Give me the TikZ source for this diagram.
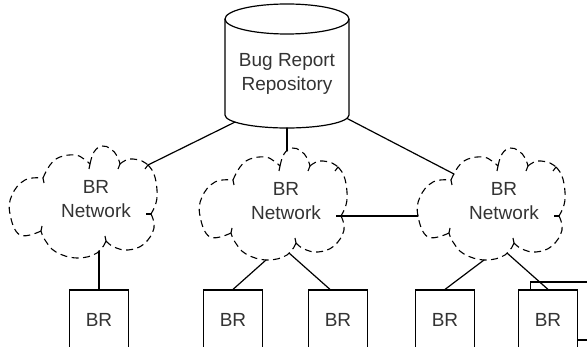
\documentclass[tikz,border=0pt]{standalone}
\usepackage{fontspec}
\setmainfont{Liberation Sans}
\usetikzlibrary{calc}

\tikzset{
  conn/.style={line width=1.2pt, line cap=round},
  cloudline/.style={line width=1.1pt, dash pattern=on 7pt off 4.5pt},
  hookline/.style={line width=1.1pt},
  lbl/.style={font=\fontsize{19}{24}\selectfont, text=black!80, align=center, inner sep=0pt},
  brbox/.style={draw, line width=1.2pt, fill=white, minimum width=59pt, minimum height=60pt,
                inner sep=0pt, font=\fontsize{19}{24}\selectfont, text=black!80},
  % dashed cloud with small inward hooks at each cusp; local origin near its middle
  brcloud/.pic={
    \draw[cloudline] plot[smooth, tension=0.7] coordinates {(-37,-22) (-30,-35) (-20,-43) (-5,-45) (4,-41) (10,-36)};
    \draw[cloudline] plot[smooth, tension=0.7] coordinates {(10,-36) (14,-48) (22,-54) (31,-51) (37,-44) (40,-36)};
    \draw[cloudline] plot[smooth, tension=0.7] coordinates {(40,-36) (46,-40) (53,-41) (62,-39) (68,-35)};
    \draw[cloudline] plot[smooth, tension=0.7] coordinates {(68,-35) (74,-26) (77,-10) (76,3) (71,14)};
    \draw[cloudline] plot[smooth, tension=0.7] coordinates {(71,14) (74,28) (64,44) (48,50) (34,47) (26,41)};
    \draw[cloudline] plot[smooth, tension=0.7] coordinates {(26,41) (17,53) (-3,58) (-24,52) (-35,40) (-39,31)};
    \draw[cloudline] plot[smooth, tension=0.7] coordinates {(-39,31) (-60,35) (-70,14) (-68,-5) (-55,-20) (-37,-22)};
    \draw[hookline] (-37,-22) -- (-36,-17);
    \draw[hookline] (10,-36) -- (9,-31);
    \draw[hookline] (40,-36) -- (38,-31);
    \draw[hookline] (68,-35) -- (65,-31);
    \draw[hookline] (71,14) -- (66,14);
    \draw[hookline] (26,41) -- (25,36);
    \draw[hookline] (-39,31) -- (-38,26);
    \node[lbl] (-t) at (16,-1) {BR\\Network};
    \coordinate (-E) at (68,-35);
    \coordinate (-D) at (71,14);
    \coordinate (-W) at (-70,14);
    \coordinate (-T) at (17,-51);
    \coordinate (-NW) at (-34,-28);
    \coordinate (-bL) at (-4,58);
    \coordinate (-bR) at (19,51);
  }
}

\begin{document}
\begin{tikzpicture}[x=1pt, y=-1pt]
  \useasboundingbox (0,0) rectangle (587,347);
  \clip (0,0) rectangle (587,347);

  % repository cylinder
  \draw[line width=1.2pt] (225,19) -- (225,115)
      arc[start angle=180, end angle=0, x radius=62, y radius=13] -- (349,19);
  \draw[line width=1.2pt] (287,19) ellipse [x radius=62, y radius=15];
  \node[lbl] (repo) at (287,74) {Bug Report\\Repository};
  \coordinate (repo-bc) at (287,115);
  \coordinate (repo-bl) at ($(repo-bc)+(147:62 and 13)$);
  \coordinate (repo-b)  at ($(repo-bc)+(90:62 and 13)$);
  \coordinate (repo-br) at ($(repo-bc)+(15:62 and 13)$);

  % networks
  \pic (c1) at (80,200) {brcloud};
  \pic (c2) at (270,202) {brcloud};
  \pic (c3) at (488,202) {brcloud};

  % bug reports
  \node[brbox] (b1) at (99,320) {BR};
  \node[brbox] (b2) at (233,320) {BR};
  \node[brbox] (b3) at (338,320) {BR};
  \node[brbox] (b4) at (445,320) {BR};
  \node[brbox, minimum width=60pt, minimum height=58pt] (b5back) at (560.5,311) {};
  \node[brbox] (b5) at (548,320) {BR};

  % connectors
  \draw[conn] (c1-E) -- (repo-bl);
  \draw[conn] (repo-b) -- (c2-T);
  \draw[conn] (repo-br) -- (c3-NW);
  \draw[conn] (c2-D) -- (c3-W);
  \draw[conn] (c1-bR) -- (b1.north);
  \draw[conn] (c2-bL) -- (b2.north);
  \draw[conn] (c2-bR) -- ($(b3.north)+(-8,0)$);
  \draw[conn] (c3-bL) -- (b4.north);
  \draw[conn] (c3-bR) -- (b5.north);
\end{tikzpicture}
\end{document}
